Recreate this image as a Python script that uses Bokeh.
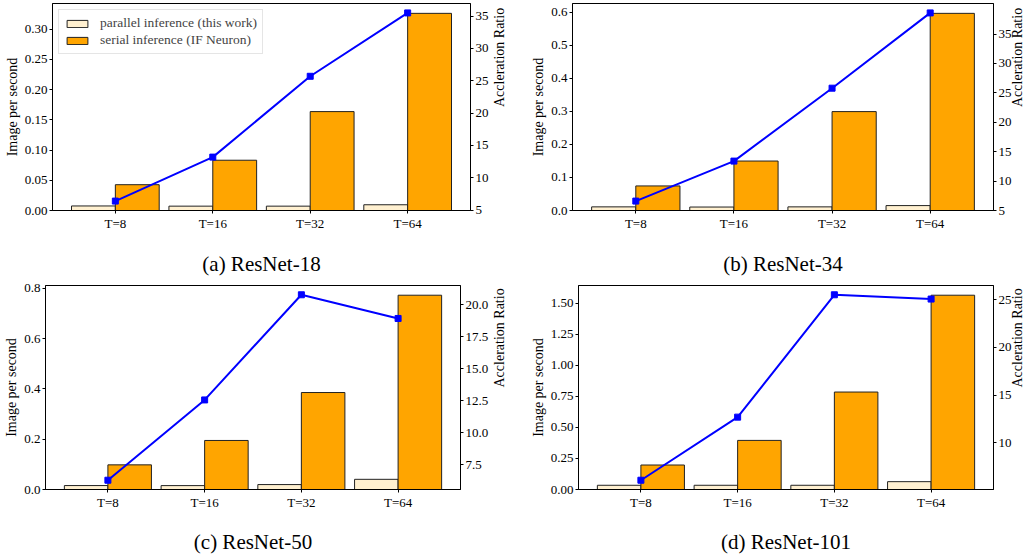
import numpy as np
from bokeh.plotting import figure
from bokeh.models import Range1d, LinearAxis, FixedTicker, PrintfTickFormatter
from bokeh.layouts import column, row
from bokeh.embed import file_html
from bokeh.resources import INLINE

categories = ["T=8", "T=16", "T=32", "T=64"]

# ResNet-18
parallel_18 = [0.0075, 0.0072, 0.0072, 0.0095]
serial_18 = [0.0427, 0.0832, 0.1637, 0.3263]
ratio_18 = [6.4, 13.2, 25.7, 35.5]
# ResNet-34
parallel_34 = [0.011, 0.0105, 0.011, 0.0149]
serial_34 = [0.0744, 0.1498, 0.2995, 0.597]
ratio_34 = [6.6, 13.4, 25.8, 38.6]
# ResNet-50
parallel_50 = [0.0157, 0.0155, 0.0196, 0.0405]
serial_50 = [0.098, 0.195, 0.3856, 0.7725]
ratio_50 = [6.29, 12.56, 20.77, 18.92]
# ResNet-101
parallel_101 = [0.034, 0.034, 0.034, 0.063]
serial_101 = [0.197, 0.395, 0.784, 1.563]
ratio_101 = [6.1, 12.7, 25.5, 25.05]

left_ticks_18 = [0.0, 0.05, 0.10, 0.15, 0.20, 0.25, 0.30]
left_ticks_34 = [0.0, 0.1, 0.2, 0.3, 0.4, 0.5, 0.6]
left_ticks_50 = [0.0, 0.2, 0.4, 0.6, 0.8]
left_ticks_101 = [0.0, 0.25, 0.5, 0.75, 1.0, 1.25, 1.5]
right_ticks_18 = [5, 10, 15, 20, 25, 30, 35]
right_ticks_34 = [5, 10, 15, 20, 25, 30, 35]
right_ticks_50 = [7.5, 10.0, 12.5, 15.0, 17.5, 20.0]
right_ticks_101 = [10, 15, 20, 25]

FONT = "Liberation Serif"
BAR_W = 0.45
PAR_COLOR = "#fff0d0"
SER_COLOR = "#ffa500"
RIGHT_LABEL = "Accleration Ratio"
RLABEL_HALF_PX = 50  # half the rendered length of the rotated right label


def style_axis(ax):
    ax.major_label_text_font = FONT
    ax.major_label_text_font_size = "13px"
    ax.major_label_text_color = "black"
    ax.axis_label_text_font = FONT
    ax.axis_label_text_font_size = "14px"
    ax.axis_label_text_font_style = "normal"
    ax.axis_label_text_color = "black"
    ax.axis_label_standoff = 2
    ax.major_label_standoff = 2
    ax.minor_tick_line_color = None
    ax.major_tick_in = 0
    ax.major_tick_out = 3
    ax.major_tick_line_color = "black"
    ax.axis_line_color = "black"


def panel(parallel, serial, ratio, lticks, lfmt, rticks, rfmt, caption,
          width, height, borders, cap_standoff, rlabel_standoff, legend=False):
    bl, br, bt, bb = borders
    n = len(categories)
    xs = np.arange(n, dtype=float)
    lo_x = -BAR_W - 0.05 * (n - 1 + 2 * BAR_W)
    hi_x = n - 1 + BAR_W + 0.05 * (n - 1 + 2 * BAR_W)
    top = max(max(serial), max(parallel)) * 1.05
    rmin, rmax = min(ratio), max(ratio)
    span = rmax - rmin
    r_lo, r_hi = rmin - 0.05 * span, rmax + 0.05 * span
    p = figure(width=width, height=height, output_backend="svg", toolbar_location=None,
               x_range=Range1d(lo_x, hi_x), y_range=Range1d(0, top),
               min_border_left=bl, min_border_right=br, min_border_top=bt, min_border_bottom=bb)
    p.extra_y_ranges = {"r": Range1d(r_lo, r_hi)}
    p.xgrid.visible = False
    p.ygrid.visible = False
    p.outline_line_color = "black"
    p.outline_line_width = 1
    p.outline_line_alpha = 1

    kw1 = dict(legend_label="parallel inference (this work)") if legend else {}
    kw2 = dict(legend_label="serial inference (IF Neuron)") if legend else {}
    p.vbar(x=xs - BAR_W / 2, top=parallel, width=BAR_W, bottom=0,
           fill_color=PAR_COLOR, line_color="#222222", line_width=1, **kw1)
    p.vbar(x=xs + BAR_W / 2, top=serial, width=BAR_W, bottom=0,
           fill_color=SER_COLOR, line_color="#222222", line_width=1, **kw2)
    p.line(xs, ratio, y_range_name="r", line_color="#0000ff", line_width=2)
    p.scatter(xs, ratio, y_range_name="r", marker="square", size=6,
              fill_color="#0000ff", line_color="#0000ff")

    rax = LinearAxis(y_range_name="r")
    p.add_layout(rax, "right")

    p.xaxis.ticker = FixedTicker(ticks=list(xs))
    p.xaxis.major_label_overrides = {float(i): c for i, c in enumerate(categories)}
    p.yaxis[0].ticker = FixedTicker(ticks=lticks)
    p.yaxis[0].formatter = PrintfTickFormatter(format=lfmt)
    p.yaxis[0].axis_label = "Image per second"
    rax.ticker = FixedTicker(ticks=rticks)
    rax.formatter = PrintfTickFormatter(format=rfmt)

    for ax in list(p.xaxis) + list(p.yaxis):
        style_axis(ax)

    # right-hand label reading bottom-to-top, centred via a label-only axis
    frame_h = height - bt - bb
    shift = RLABEL_HALF_PX * (r_hi - r_lo) / frame_h
    mid = (r_lo + r_hi) / 2 - shift
    lab = LinearAxis(y_range_name="r", ticker=FixedTicker(ticks=[]),
                     bounds=(r_lo, 2 * mid - r_lo), axis_label=RIGHT_LABEL)
    style_axis(lab)
    lab.axis_line_color = None
    lab.major_tick_out = 0
    lab.major_tick_line_color = None
    lab.axis_label_standoff = rlabel_standoff
    lab.axis_label_orientation = np.pi / 2
    p.add_layout(lab, "right")

    # sub-figure caption under the x axis
    xax = p.xaxis[0]
    xax.axis_label = caption
    xax.axis_label_text_font_size = "21px"
    xax.axis_label_standoff = cap_standoff

    if legend:
        lg = p.legend[0]
        lg.location = "top_left"
        lg.label_text_font = FONT
        lg.label_text_font_size = "13.5px"
        lg.glyph_width = 26
        lg.glyph_height = 9
        lg.label_standoff = 10
        lg.spacing = 1
        lg.padding = 5
        lg.margin = 6
        lg.border_line_color = "#cccccc"
        lg.border_line_width = 1
        lg.background_fill_alpha = 0.85
        lg.label_height = 14
    return p


pa = panel(parallel_18, serial_18, ratio_18, left_ticks_18, "%.2f", right_ticks_18, "%d",
           "(a) ResNet-18", 517, 278, (52, 46, 3, 66), 18, 8, legend=True)
pb = panel(parallel_34, serial_34, ratio_34, left_ticks_34, "%.1f", right_ticks_34, "%d",
           "(b) ResNet-34", 518, 278, (55, 38, 1, 67), 18, 3)
pc = panel(parallel_50, serial_50, ratio_50, left_ticks_50, "%.1f", right_ticks_50, "%.1f",
           "(c) ResNet-50", 517, 278, (45, 56, 7, 64), 17, 8)
pd_ = panel(parallel_101, serial_101, ratio_101, left_ticks_101, "%.2f", right_ticks_101, "%d",
            "(d) ResNet-101", 518, 278, (61, 37, 6, 64), 17, 3)

layout = column(row(pa, pb), row(pc, pd_))
open("out.html", "w").write(file_html(layout, INLINE))
